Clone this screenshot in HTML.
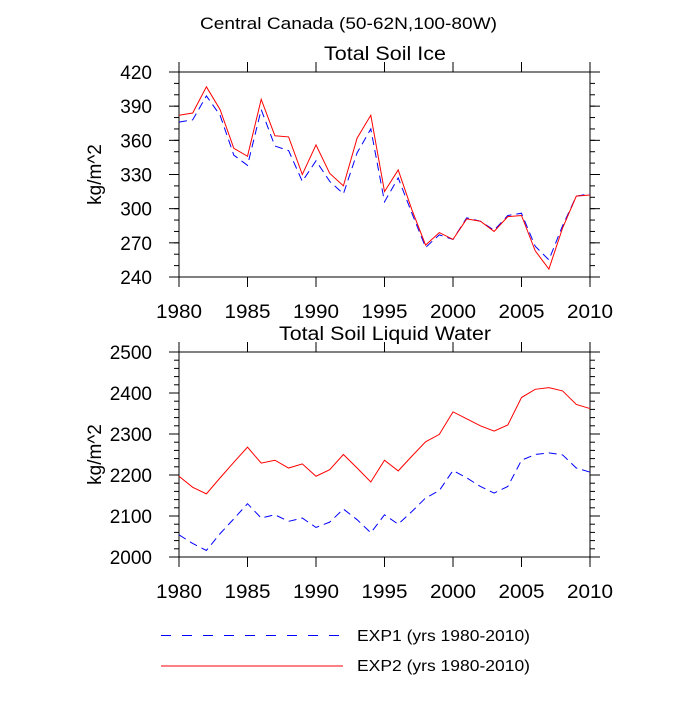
<!DOCTYPE html>
<html><head><meta charset="utf-8"><style>
body{margin:0;background:#fff}
text{font-family:"Liberation Sans",sans-serif;fill:#000}
</style></head><body>
<svg id="c" width="700" height="700">
<text x="200" y="29" font-size="17" textLength="297" lengthAdjust="spacingAndGlyphs">Central Canada (50-62N,100-80W)</text>
</svg>
<script>
const years=[];for(let y=1980;y<=2010;y++)years.push(y);
const iceExp1=[376,378,399,382,347,338,387,355,351,324,342,324,313,349,370,306,327,296,266,277,273,292,289,281,294,296,267,255,285,311,313];
const iceExp2=[382,384,407,387,353,346,396,364,363,330,356,331,320,362,382,315,334,299,268,279,273,291,289,280,293,294,263,247,283,311,312];
const liqExp1=[2054,2033,2016,2057,2093,2130,2095,2103,2087,2095,2072,2085,2117,2091,2059,2103,2080,2111,2144,2162,2211,2193,2172,2156,2172,2236,2250,2254,2249,2217,2207];
const liqExp2=[2197,2170,2154,2193,2231,2268,2229,2236,2217,2227,2197,2213,2250,2217,2183,2236,2210,2246,2281,2299,2354,2337,2320,2307,2322,2389,2409,2413,2405,2372,2362];
const xTicks=[1980,1985,1990,1995,2000,2005,2010];
const iceTicks=[240,270,300,330,360,390,420];
const liqTicks=[2000,2100,2200,2300,2400,2500];
const svg=document.getElementById('c');const NS='http://www.w3.org/2000/svg';
function mk(t,a,p){const e=document.createElementNS(NS,t);for(const k in a)e.setAttribute(k,a[k]);(p||svg).appendChild(e);return e;}
const X0=179,X1=590;
function sx(v){return X0+(v-1980)/30*(X1-X0);}
function panel(name,top,bot,ymin,ymax,ticks,minorStep,s1,s2,title,tlen){
  const g=mk('g',{});
  
  
  const sy=v=>bot-(v-ymin)/(ymax-ymin)*(bot-top);
  const fr=mk('rect',{x:X0,y:top,width:X1-X0,height:bot-top,fill:'none',stroke:'#000','stroke-width':1},g);
  
  
  xTicks.forEach(v=>{const x=sx(v);
    mk('line',{x1:x,x2:x,y1:top,y2:top-10,stroke:'#000'},g);
    mk('line',{x1:x,x2:x,y1:bot,y2:bot+10,stroke:'#000'},g);
    const t=mk('text',{x:x,y:bot+41,'font-size':19,'text-anchor':'middle',textLength:46,lengthAdjust:'spacingAndGlyphs'},g);t.textContent=v;
    
    });
  for(let v=ymin;v<=ymax+0.01;v+=minorStep){const y=sy(v);
    mk('line',{x1:X0,x2:X0-5,y1:y,y2:y,stroke:'#000'},g);
    mk('line',{x1:X1,x2:X1+5,y1:y,y2:y,stroke:'#000'},g);}
  ticks.forEach(v=>{const y=sy(v);
    mk('line',{x1:X0,x2:X0-10,y1:y,y2:y,stroke:'#000'},g);
    mk('line',{x1:X1,x2:X1+10,y1:y,y2:y,stroke:'#000'},g);
    const t=mk('text',{x:152,y:y+7,'font-size':19,'text-anchor':'end'},g);t.textContent=v;
    
    });
  const yl=mk('text',{x:0,y:0,'font-size':19,'text-anchor':'middle',transform:`translate(101,${(top+bot)/2}) rotate(-90)`},g);yl.textContent='kg/m^2';
  
  
  const tt=mk('text',{x:385,y:top-12,'font-size':19,'text-anchor':'middle',textLength:tlen,lengthAdjust:'spacingAndGlyphs'},g);tt.textContent=title;
  
  
  const p1=mk('polyline',{points:years.map((y,i)=>sx(y)+','+sy(s1[i])).join(' '),fill:'none',stroke:'#0000ff','stroke-width':1,'stroke-dasharray':'8,5'},g);
  
  
  const p2=mk('polyline',{points:years.map((y,i)=>sx(y)+','+sy(s2[i])).join(' '),fill:'none',stroke:'#ff0000','stroke-width':1},g);
  
  
}
panel('soil-ice-panel',72,277,240,420,iceTicks,10,iceExp1,iceExp2,'Total Soil Ice',122);
panel('soil-liquid-panel',352,557,2000,2500,liqTicks,20,liqExp1,liqExp2,'Total Soil Liquid Water',212);
const l1=mk('line',{x1:161,x2:340,y1:635.5,y2:635.5,stroke:'#0000ff','stroke-dasharray':'10,11'});


const t1=mk('text',{x:357,y:641,'font-size':16,textLength:173,lengthAdjust:'spacingAndGlyphs'});t1.textContent='EXP1 (yrs 1980-2010)';


const l2=mk('line',{x1:161,x2:343,y1:666,y2:666,stroke:'#ff0000'});


const t2=mk('text',{x:357,y:671,'font-size':16,textLength:173,lengthAdjust:'spacingAndGlyphs'});t2.textContent='EXP2 (yrs 1980-2010)';


</script>
</body></html>
